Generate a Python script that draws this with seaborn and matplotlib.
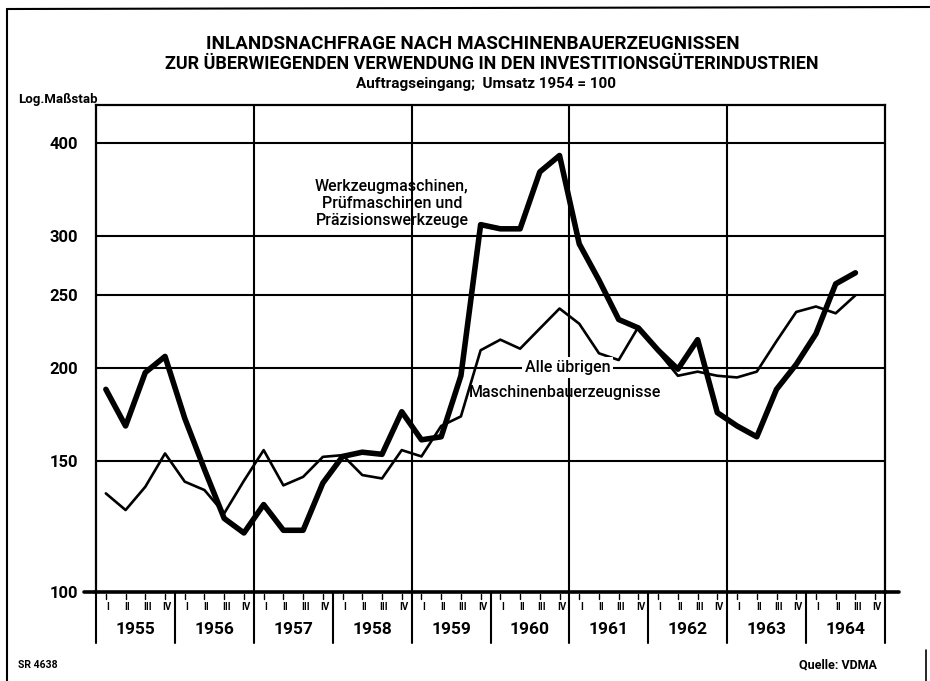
import numpy as np
import pandas as pd
import matplotlib.pyplot as plt
import seaborn as sns
from matplotlib.lines import Line2D
from matplotlib.ticker import NullLocator
from matplotlib.transforms import blended_transform_factory

# Daten, Quartale 1955 I bis 1964 III
jahre = [str(j) for j in range(1955, 1965)]
quartale = ['I', 'II', 'III', 'IV']
werkzeug = [187, 167, 197, 207,
            171, 146, 125.5, 120,
            131, 121, 121, 140,
            152, 154, 153, 174.5,
            160, 161.5, 195, 311,
            307, 307, 366, 385,
            293, 262, 232, 226,
            211, 199, 218, 174,
            167, 161.5, 187, 202,
            222, 259, 268]
uebrige = [135.6, 128.8, 138.4, 153.4,
           140.6, 137, 127.5, 141,
           155, 139, 142.7, 151.8,
           152.6, 143.5, 142, 155,
           152, 167, 172, 211,
           218, 212, 225.6, 240,
           229, 209, 204.7, 226.8,
           210, 195, 197.5, 195,
           194, 197.5, 217, 237.5,
           241.5, 236.5, 250]
y_ticks = [100, 150, 200, 250, 300, 400]

sns.set_style("white")
plt.rcParams['font.family'] = ['Roboto', 'DejaVu Sans']
plt.rcParams['text.color'] = 'black'
plt.rcParams['ytick.color'] = 'black'

W, H = 930, 681
fig = plt.figure(figsize=(W / 100, H / 100), dpi=100)
ax = fig.add_axes([96 / W, 1 - 592 / H, 789 / W, 487 / H])

df = pd.DataFrame({'Quartal': np.arange(len(werkzeug)),
                   'Werkzeug': werkzeug,
                   'Uebrige': uebrige})

sns.lineplot(data=df, x='Quartal', y='Uebrige', ax=ax, color='black',
             linewidth=1.9, zorder=3)
sns.lineplot(data=df, x='Quartal', y='Werkzeug', ax=ax, color='black',
             linewidth=4.0, zorder=4)

ax.set_yscale('log')
ax.set_ylim(100, 450)
ax.set_xlim(-0.5, 39.5)
ax.set_yticks(y_ticks)
ax.set_yticklabels([str(v) for v in y_ticks], fontweight='bold', fontsize=12)
ax.yaxis.set_minor_locator(NullLocator())
ax.tick_params(axis='y', length=0, pad=13, colors='black')
ax.set_xticks([])
ax.set_xlabel('')
ax.set_ylabel('')

# Gitter
for v in y_ticks[1:]:
    ax.axhline(v, color='black', lw=1.5, zorder=1)
for k in range(2, 10, 2):
    ax.axvline(4 * k - 0.5, color='black', lw=1.5, zorder=1)

for s in ['left', 'right', 'top']:
    ax.spines[s].set_linewidth(1.6)
    ax.spines[s].set_color('black')
ax.spines['bottom'].set_linewidth(2.6)
ax.spines['bottom'].set_color('black')

# Quartals- und Jahresbeschriftung unter der Achse
trans = blended_transform_factory(ax.transData, ax.transAxes)
for k in range(len(jahre) + 1):
    ax.plot([4 * k - 0.5, 4 * k - 0.5], [0, -0.105], color='black', lw=1.5,
            transform=trans, clip_on=False)
for k, jahr in enumerate(jahre):
    ax.text(4 * k + 1.5, -0.078, jahr, transform=trans, ha='center',
            va='center', fontsize=12.5, fontweight='bold')
    for q, lab in enumerate(quartale):
        x = 4 * k + q
        ax.plot([x, x], [-0.004, -0.014], color='black', lw=1,
                transform=trans, clip_on=False)
        ax.text(x + 0.1, -0.031, lab, transform=trans, ha='center',
                va='center', fontsize=7, fontweight='bold')
# Achsenlinie bei 100 etwas verlaengert
ax.plot([-1.1, -0.5], [0, 0], color='black', lw=2.6, transform=trans,
        clip_on=False)
ax.plot([39.5, 40.2], [0, 0], color='black', lw=2.6, transform=trans,
        clip_on=False)

# Beschriftung der Linien
ax.text(14.5, 332, 'Werkzeugmaschinen,\nPrüfmaschinen und\nPräzisionswerkzeuge',
        ha='center', va='center', multialignment='center', fontsize=11.5,
        fontweight='medium', linespacing=1.2, zorder=5)
ax.text(23.4, 200, 'Alle übrigen', ha='center', va='center', fontsize=11.5,
        fontweight='medium', zorder=5,
        bbox=dict(facecolor='white', edgecolor='none', pad=2))
ax.text(23.3, 185, 'Maschinenbauerzeugnisse', ha='center', va='center',
        fontsize=11.5, fontweight='medium', zorder=5)

# Titel
fig.text(473 / W, 1 - 44 / H, 'INLANDSNACHFRAGE NACH MASCHINENBAUERZEUGNISSEN',
         ha='center', va='center', fontsize=13.6, fontweight='bold')
fig.text(492 / W, 1 - 64 / H,
         'ZUR ÜBERWIEGENDEN VERWENDUNG IN DEN INVESTITIONSGÜTERINDUSTRIEN',
         ha='center', va='center', fontsize=13, fontweight='bold')
fig.text(486 / W, 1 - 84 / H, 'Auftragseingang;  Umsatz 1954 = 100',
         ha='center', va='center', fontsize=11, fontweight='bold')
fig.text(18 / W, 1 - 100 / H, 'Log.Maßstab', ha='left', va='center',
         fontsize=9.5, fontweight='bold')
fig.text(18 / W, 1 - 665 / H, 'SR 4638', ha='left', va='center',
         fontsize=7.5, fontweight='bold')
fig.text(877 / W, 1 - 665 / H, 'Quelle: VDMA', ha='right', va='center',
         fontsize=9, fontweight='bold')

# Rahmen
fig.add_artist(Line2D([7 / W, 7 / W], [1 - 9 / H, 0], color='black', lw=1.5))
fig.add_artist(Line2D([7 / W, 930 / W], [1 - 9 / H, 1 - 7 / H], color='black', lw=1.5))
fig.add_artist(Line2D([926 / W, 926 / W], [1 - 650 / H, 0], color='black', lw=1.2))

plt.savefig('out.png', dpi=100)
plt.close()
